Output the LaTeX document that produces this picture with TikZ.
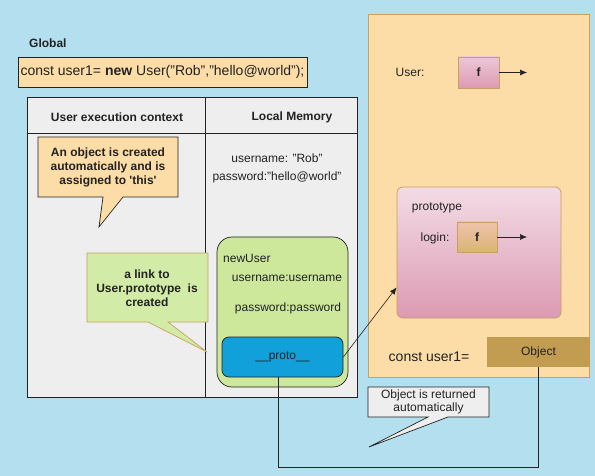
\documentclass[tikz,border=0pt]{standalone}
\usepackage{fontspec}
\setmainfont{Liberation Sans}
\usetikzlibrary{arrows.meta,calc}
\definecolor{bg}{HTML}{B3DFEE}
\definecolor{peach}{HTML}{FCDCA7}
\definecolor{gray1}{HTML}{EEEEEE}
\definecolor{lgreen}{HTML}{CDE89B}
\definecolor{cgreen}{HTML}{D2EBA6}
\definecolor{pblue}{HTML}{11A0DA}
\definecolor{pink1}{HTML}{DC9AB3}
\definecolor{tan1}{HTML}{C29C50}
\definecolor{tanline}{HTML}{C8A060}
\definecolor{ink}{HTML}{222222}
\begin{document}
\begin{tikzpicture}[x=1pt,y=-1pt,
  txt/.style={inner sep=0pt, text=ink, font=\fontsize{12}{14}\selectfont},
  btxt/.style={txt, font=\fontsize{12}{14}\selectfont\bfseries, align=center},
  ftxt/.style={draw=tanline, line width=0.8pt, minimum width=41pt, minimum height=31pt, inner sep=0pt,
     top color=pink1!55!white, bottom color=pink1, font=\fontsize{12}{14}\selectfont\bfseries, text=ink},
  arr/.style={-{Latex[length=7pt,width=6pt]}, ink, line width=0.6pt},
  calloutline/.style={line width=0.7pt}
]
\useasboundingbox (0,0) rectangle (595,476);
\fill[bg] (0,0) rectangle (595,476);

% Global
\node[btxt, anchor=west] (global) at (29,43) {Global};
\node[draw=ink, fill=peach, line width=0.7pt, minimum width=289pt, minimum height=30pt, inner sep=0pt,
      font=\fontsize{14}{16}\selectfont, text=ink] (code) at (162.5,72)
      {const user1= \textbf{new} User("Rob","hello@world");};

% execution context table
\node[draw=ink, fill=gray1, line width=0.7pt, minimum width=330pt, minimum height=300pt, anchor=north west, inner sep=0pt] (table) at (27,97) {};
\draw[ink, line width=0.7pt] (27,133) -- (357,133);
\draw[ink, line width=0.7pt] (205,97) -- (205,397);
\node[btxt] (h1) at (117,117) {User execution context};
\node[btxt] (h2) at (292,117) {Local Memory};

% callout 1
\draw[ink, fill=peach, calloutline] (38,137) -- (178,137) -- (178,197) -- (123,197) -- (99,227) -- (103,197) -- (38,197) -- cycle;
\node[btxt] (c1) at (108,167) {An object is created\\automatically and is\\assigned to \textquotesingle this\textquotesingle};

% local memory
\node[txt] (lm1) at (277,158) {username: "Rob"};
\node[txt] (lm2) at (277,177) {password:"hello@world"};

% newUser
\node[draw=ink, fill=lgreen, line width=0.7pt, rounded corners=15pt, minimum width=131pt, minimum height=150pt, inner sep=0pt] (nu) at (282.5,312) {};
\node[txt, anchor=west] (nulbl) at (223,258) {newUser};
\node[txt] (nu1) at (287,278) {username:username};
\node[txt] (nu2) at (288,308) {password:password};
\node[draw=ink, fill=pblue, line width=0.7pt, rounded corners=7pt, minimum width=121pt, minimum height=40pt, inner sep=0pt, txt] (proto) at (282.5,357) {\_\_proto\_\_};

% callout 2
\draw[tanline, fill=cgreen, calloutline] (87,253) -- (208,253) -- (208,322) -- (168,322) -- (207,352) -- (148,322) -- (87,322) -- cycle;
\node[btxt] (c2) at (147,288) {a link to\\User.prototype\ \ is\\created};

% right panel
\node[draw=tanline, fill=peach, line width=0.8pt, minimum width=221pt, minimum height=363pt, anchor=north west, inner sep=0pt] (panel) at (368,14) {};
\node[txt] (userlbl) at (410,72) {User:};
\node[ftxt] (uf) at (478.5,72.5) {f};
\coordinate (ufend) at (527,72.5);
\draw[arr] (uf.east) -- (ufend);

\node[draw=tanline, line width=0.8pt, rounded corners=6pt, minimum width=164pt, minimum height=131pt, inner sep=0pt,
      top color=pink1!35!white, middle color=pink1, bottom color=pink1] (pbox) at (479,252.5) {};
\node[txt] (protolbl) at (437,208) {prototype};
\node[txt] (loginlbl) at (435,238) {login:};
\node[ftxt, minimum width=40pt, minimum height=30pt, top color=peach!60!pink1, bottom color=tan1!60!peach] (lf) at (477,237) {f};
\coordinate (lfend) at (527,237);
\draw[arr] (lf.east) -- (lfend);

\node[txt, font=\fontsize{14}{16}\selectfont] (cu) at (429,357) {const user1=};
\node[fill=tan1, minimum width=103pt, minimum height=30pt, inner sep=0pt, txt] (obj) at (538.5,352) {Object};

% connectors
\coordinate (ptip) at ($(pbox.south west)+(0,-31)$);
\draw[arr] (proto.east) -- (ptip);
\draw[ink, line width=0.7pt] ($(proto.south)+(-4.5,0)$) |- ($(obj.south)+(0,100)$) -- (obj.south);

% callout 3
\draw[ink, fill=gray1, calloutline] (368,387) -- (489,387) -- (489,417) -- (448,417) -- (369,447) -- (428,417) -- (368,417) -- cycle;
\node[txt, align=center, font=\fontsize{12}{13.5}\selectfont] (c3) at (428.5,402) {Object is returned\\automatically};
\end{tikzpicture}
\end{document}
